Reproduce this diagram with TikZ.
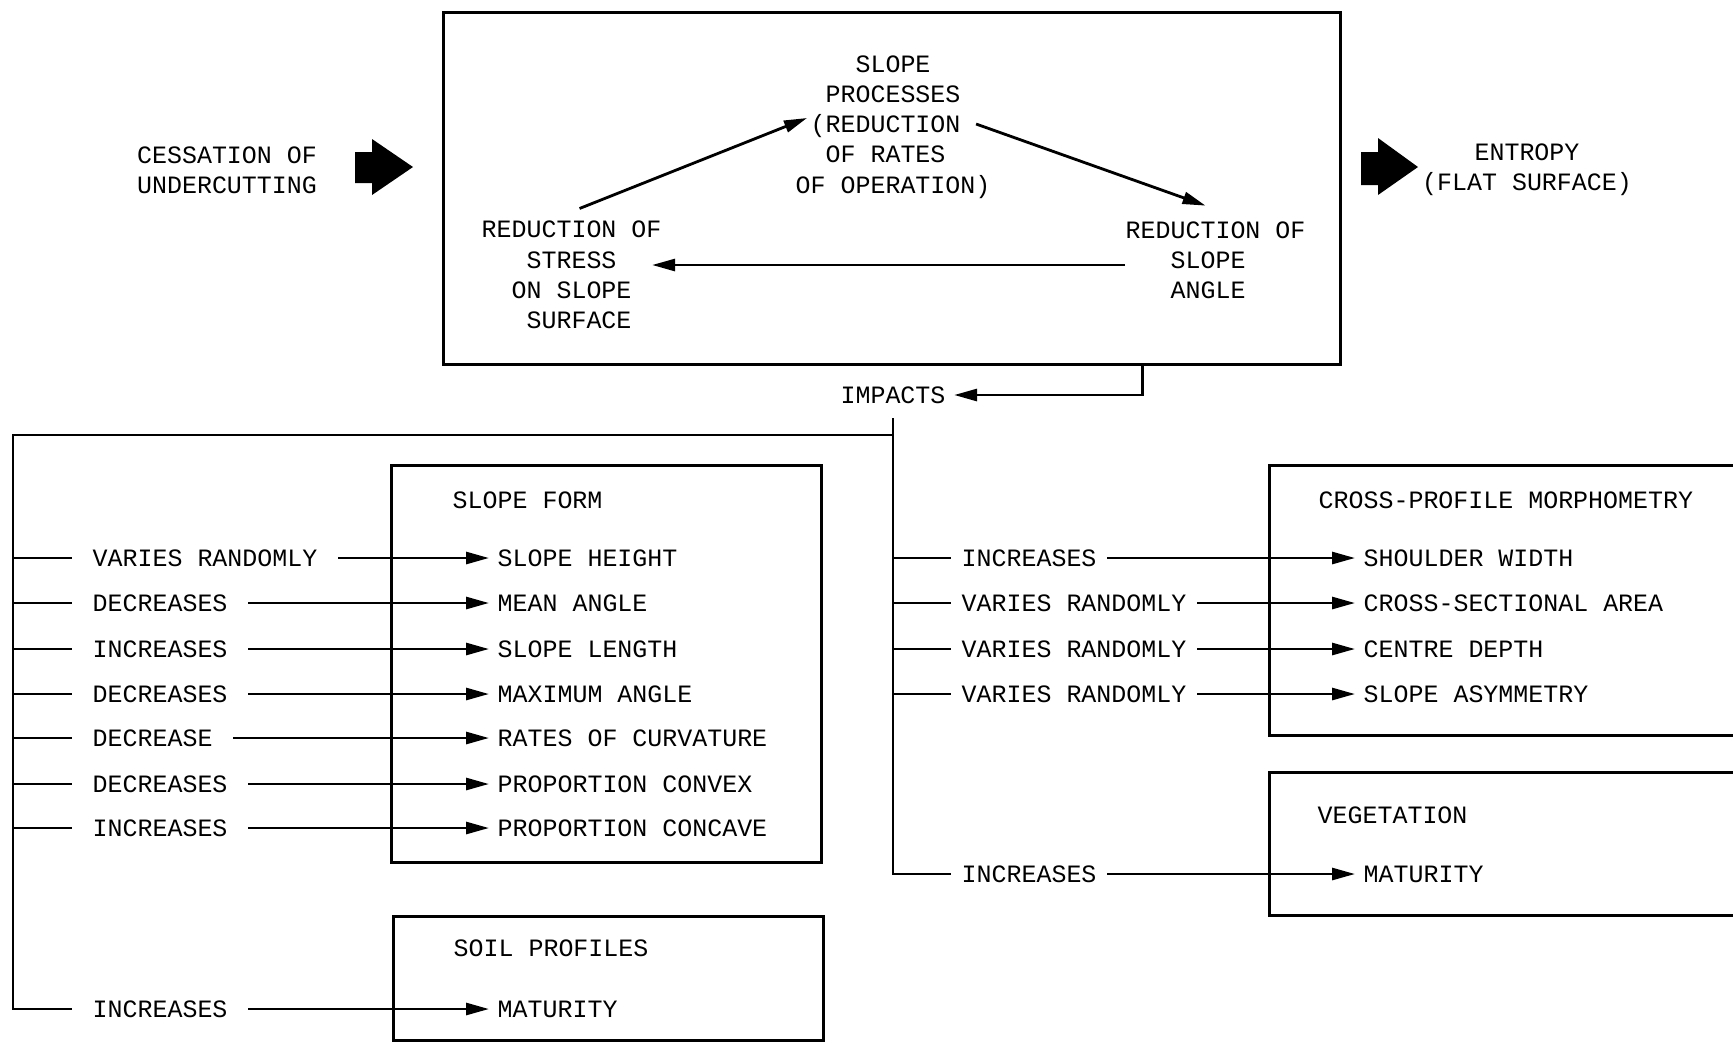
\documentclass[tikz,border=0pt]{standalone}
\usepackage{fontspec}
\setmainfont{Liberation Mono}
\usetikzlibrary{arrows.meta}

\begin{document}
\begin{tikzpicture}[x=0.1mm,y=-0.1mm,
    font=\fontsize{7.1}{8.6}\selectfont,
    every node/.style={inner sep=0pt},
    panel/.style={draw,line width=0.95pt,anchor=north west},
    link/.style={line width=0.8pt},
    arr/.style={link,-{Triangle[length=2.3mm,width=1.2mm]}},
    effect/.style={anchor=west,inner xsep=2mm},
    reffect/.style={anchor=west,inner xsep=1mm},
    prop/.style={anchor=west,inner xsep=0.8mm}]
    \useasboundingbox (0,0) rectangle (1733,1046);
    \clip (0,0) rectangle (1733,1046);

    % the feedback loop
    \node[panel,minimum width=89.7mm,minimum height=35.2mm] (cycle) at (442,11) {};
    \node[align=left,anchor=west] (proc) at (795,127) {\hphantom{XXXX}SLOPE\\ \hphantom{XX}PROCESSES\\ \hphantom{X}(REDUCTION\\ \hphantom{XX}OF RATES\\ OF OPERATION)};
    \node[align=left,anchor=west] (stress) at (481,275) {REDUCTION OF\\ \hphantom{XXX}STRESS\\ \hphantom{XX}ON SLOPE\\ \hphantom{XXX}SURFACE};
    \node[align=left,anchor=west] (angle) at (1125,260) {REDUCTION OF\\ \hphantom{XXX}SLOPE\\ \hphantom{XXX}ANGLE};
    \draw[arr] ([shift={(8,-12)}]stress.north) -- ([shift={(12,-9)}]proc.west);
    \draw[arr] ([shift={(-15,-3)}]proc.east) -- ([shift={(-10,-15)}]angle.north);
    \draw[arr] ([shift={(0,5)}]angle.west) -- ([shift={(-10,-10)}]stress.east);

    % input and output
    \node[align=center] (cess) at (227,170) {CESSATION OF\\UNDERCUTTING};
    \fill (355,152) -- (372,152) -- (372,139) -- (413,167) -- (372,195) -- (372,183) -- (355,183) -- cycle;
    \node[align=center] (entropy) at (1527,170) {ENTROPY\\(FLAT SURFACE)};
    \fill (1361,152) -- (1378,152) -- (1378,138) -- (1418,167) -- (1378,195) -- (1378,185) -- (1361,185) -- cycle;

    \node[inner xsep=0.8mm] (impacts) at (893,395) {IMPACTS};
    \draw[arr] ([shift={(250,0)}]cycle.south) |- (impacts.east);
    \coordinate (hub) at (893,418);
    \coordinate (corner) at (13,435);

    % boxes
    \node[panel,minimum width=43mm,minimum height=39.7mm] (form) at (390,464) {};
    \node[anchor=west] (formtitle) at ([shift={(62,36)}]form.north west) {SLOPE FORM};
    \node[panel,minimum width=43mm,minimum height=12.4mm] (soil) at (392,915) {};
    \node[anchor=west] (soiltitle) at ([shift={(61,33)}]soil.north west) {SOIL PROFILES};
    \node[panel,minimum width=48mm,minimum height=27mm] (cross) at (1268,464) {};
    \node[anchor=west] (crosstitle) at ([shift={(50,36)}]cross.north west) {CROSS-PROFILE MORPHOMETRY};
    \node[panel,minimum width=48mm,minimum height=14.3mm] (veg) at (1268,771) {};
    \node[anchor=west] (vegtitle) at ([shift={(49,44)}]veg.north west) {VEGETATION};

    % left branch
    \foreach \y/\fx/\tgt [count=\i] in {558/VARIES RANDOMLY/SLOPE HEIGHT, 603/DECREASES/MEAN ANGLE,
        649/INCREASES/SLOPE LENGTH, 694/DECREASES/MAXIMUM ANGLE, 738/DECREASE/RATES OF CURVATURE,
        784/DECREASES/PROPORTION CONVEX, 828/INCREASES/PROPORTION CONCAVE} {
        \node[effect] (le\i) at (72,\y) {\fx};
        \node[prop] (lp\i) at (489,\y) {\tgt};
        \draw[link] (corner |- le\i.west) -- (le\i.west);
        \draw[arr] (le\i.east) -- (lp\i.west);
    }
    \node[effect] (soilfx) at (72,1009) {INCREASES};
    \node[prop] (soiltgt) at (489,1009) {MATURITY};
    \draw[link] (hub |- corner) -- (corner) |- (soilfx.west);
    \draw[arr] (soilfx.east) -- (soiltgt.west);

    % right branch
    \foreach \y/\fx/\tgt [count=\i] in {558/INCREASES/SHOULDER WIDTH, 603/VARIES RANDOMLY/CROSS-SECTIONAL AREA,
        649/VARIES RANDOMLY/CENTRE DEPTH, 694/VARIES RANDOMLY/SLOPE ASYMMETRY} {
        \node[reffect] (re\i) at (951,\y) {\fx};
        \node[prop] (rp\i) at (1355,\y) {\tgt};
        \draw[link] (hub |- re\i.west) -- (re\i.west);
        \draw[arr] (re\i.east) -- (rp\i.west);
    }
    \node[reffect] (vegfx) at (951,874) {INCREASES};
    \node[prop] (vegtgt) at (1355,874) {MATURITY};
    \draw[link] (hub) |- (vegfx.west);
    \draw[arr] (vegfx.east) -- (vegtgt.west);
\end{tikzpicture}
\end{document}
